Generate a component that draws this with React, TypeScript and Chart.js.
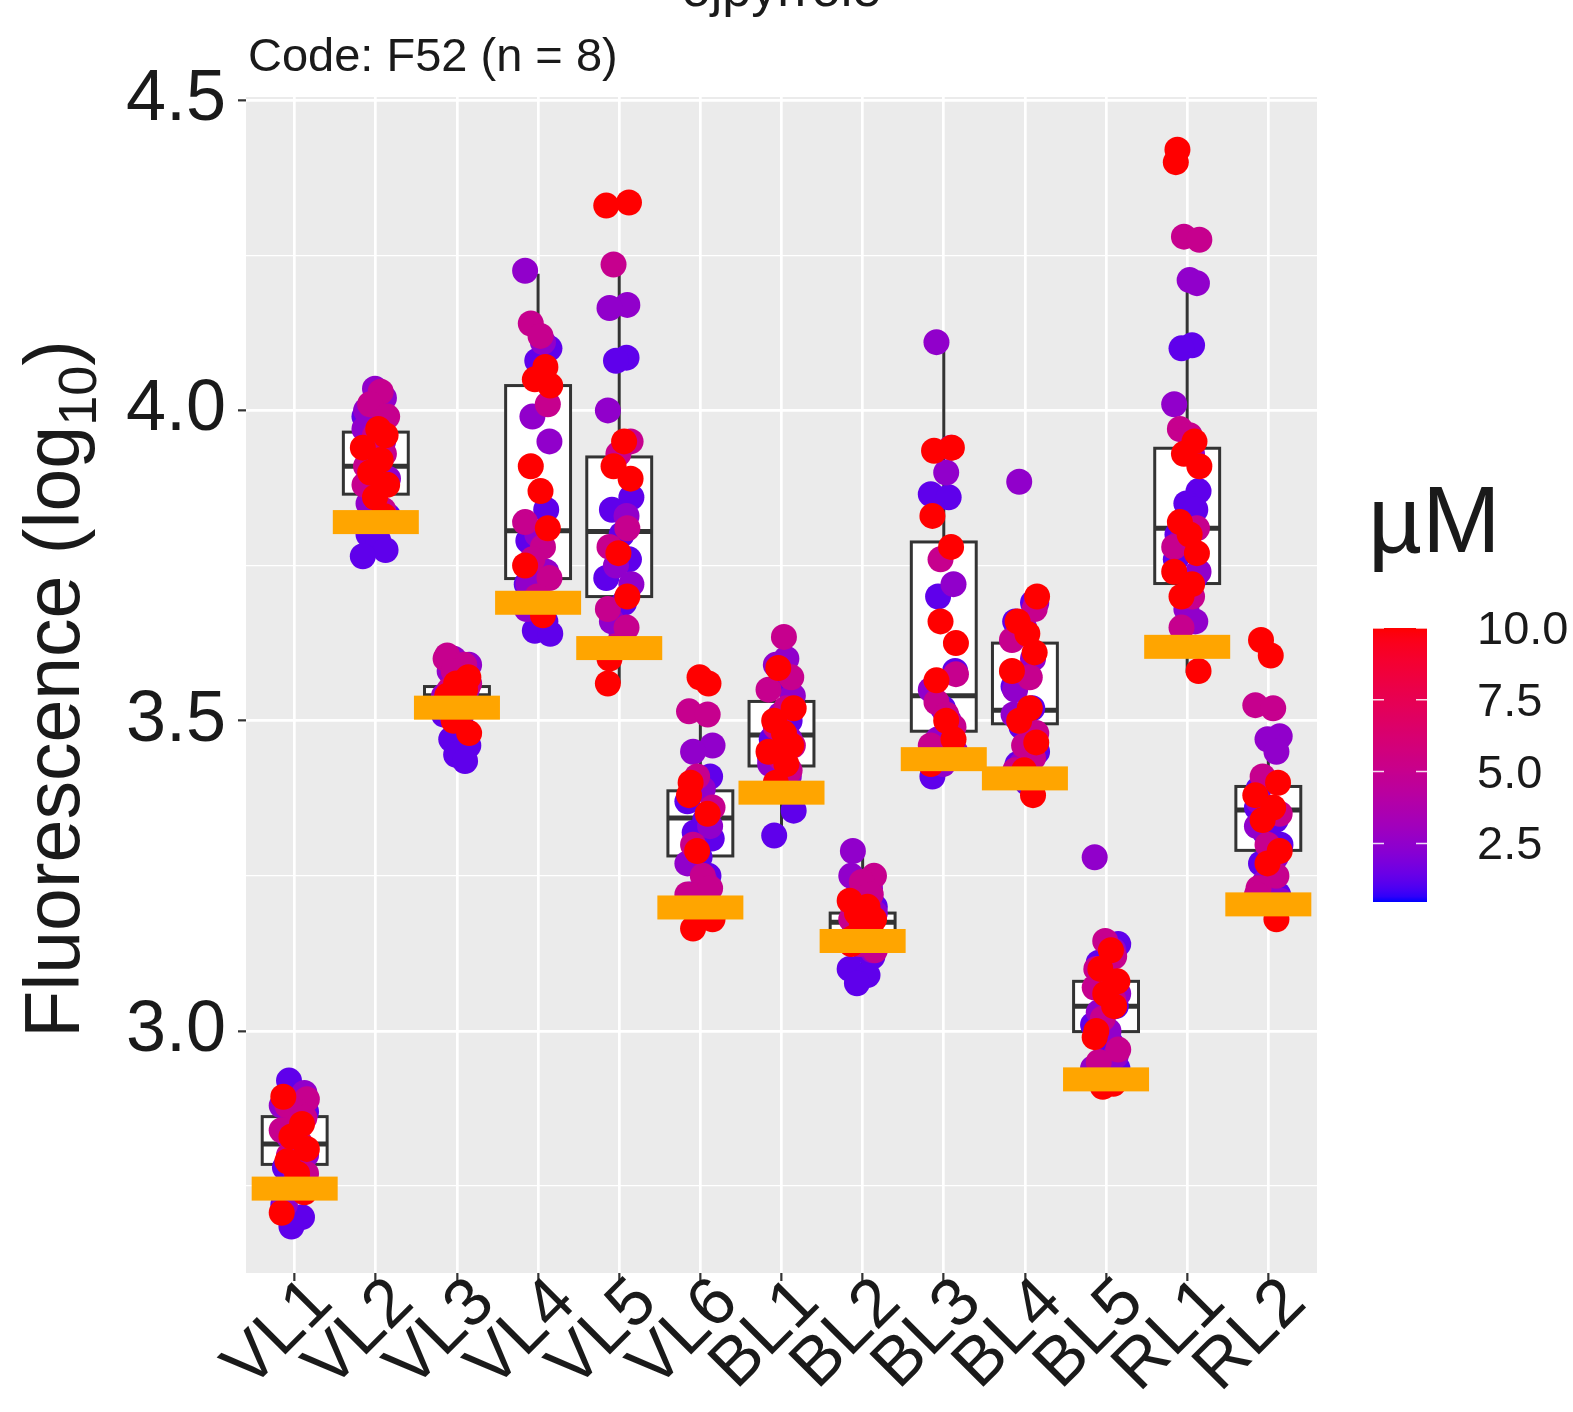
import React, { useEffect, useRef } from 'react';
import { Chart, registerables } from 'chart.js';

Chart.register(...registerables);

// ---------------- DATA ----------------
const TITLE = 'ojpyrrole';
const SUBTITLE = 'Code: F52 (n = 8)';
const Y_TITLE_MAIN = 'Fluorescence (log';
const Y_TITLE_SUB = '10';
const Y_TITLE_END = ')';
const LEGEND_TITLE = 'µM';

const CATEGORIES = ['VL1', 'VL2', 'VL3', 'VL4', 'VL5', 'VL6', 'BL1', 'BL2', 'BL3', 'BL4', 'BL5', 'RL1', 'RL2'];
const CONCENTRATIONS = [10, 5, 2.5, 1.25];

const Y_LIMITS = [2.61, 4.505];
const Y_MAJOR_TICKS = [3.0, 3.5, 4.0, 4.5];
const Y_MINOR_TICKS = [2.75, 3.25, 3.75, 4.25];
const COLOR_LIMITS = [0.46, 10];
const LEGEND_TICKS = [2.5, 5.0, 7.5, 10.0];

// log10 fluorescence per category, 10 µM
const POINTS_10 = [
  [2.894, 2.85, 2.83, 2.81, 2.79, 2.77, 2.74, 2.707],
  [3.97, 3.96, 3.94, 3.92, 3.90, 3.88, 3.86, 3.83],
  [3.57, 3.56, 3.55, 3.54, 3.53, 3.52, 3.50, 3.48],
  [4.07, 4.05, 4.04, 3.91, 3.87, 3.81, 3.75, 3.67],
  [4.335, 4.33, 3.95, 3.91, 3.89, 3.77, 3.70, 3.60, 3.56],
  [3.57, 3.56, 3.40, 3.38, 3.35, 3.29, 3.18, 3.165],
  [3.585, 3.52, 3.50, 3.48, 3.46, 3.45, 3.43, 3.40],
  [3.21, 3.20, 3.19, 3.18, 3.17, 3.16, 3.15, 3.14],
  [3.94, 3.935, 3.83, 3.78, 3.66, 3.625, 3.565, 3.50, 3.47, 3.43],
  [3.70, 3.66, 3.64, 3.61, 3.58, 3.52, 3.50, 3.465, 3.42, 3.38],
  [3.13, 3.10, 3.08, 3.06, 3.04, 3.00, 2.99, 2.915, 2.91],
  [4.42, 4.40, 3.95, 3.93, 3.91, 3.82, 3.80, 3.77, 3.74, 3.72, 3.70, 3.58],
  [3.63, 3.605, 3.40, 3.38, 3.36, 3.34, 3.29, 3.27, 3.18],
];
// 5 µM
const POINTS_5 = [
  [2.89, 2.88, 2.87, 2.86, 2.84, 2.82, 2.80, 2.77],
  [4.03, 4.01, 3.99, 3.96, 3.93, 3.91, 3.88, 3.84],
  [3.605, 3.60, 3.59, 3.58, 3.56, 3.55, 3.54, 3.52],
  [4.14, 4.12, 4.01, 3.82, 3.78, 3.76, 3.73, 3.70],
  [4.235, 3.95, 3.93, 3.81, 3.78, 3.68, 3.65, 3.62],
  [3.515, 3.51, 3.41, 3.36, 3.30, 3.25, 3.23, 3.22],
  [3.635, 3.57, 3.55, 3.52, 3.49, 3.46, 3.44, 3.42],
  [3.25, 3.24, 3.22, 3.20, 3.18, 3.16, 3.14, 3.13],
  [3.94, 3.76, 3.575, 3.53, 3.51, 3.49, 3.46, 3.44],
  [3.68, 3.63, 3.57, 3.50, 3.48, 3.46, 3.44, 3.42],
  [3.145, 3.12, 3.10, 3.07, 3.05, 3.02, 2.97, 2.95],
  [4.28, 4.275, 3.97, 3.96, 3.81, 3.78, 3.70, 3.65],
  [3.525, 3.52, 3.41, 3.35, 3.30, 3.25, 3.23, 3.22],
];
// 2.5 µM
const POINTS_2_5 = [
  [2.90, 2.88, 2.86, 2.83, 2.80, 2.78, 2.76, 2.72],
  [4.035, 4.02, 4.00, 3.97, 3.95, 3.92, 3.89, 3.85],
  [3.60, 3.59, 3.58, 3.57, 3.55, 3.54, 3.53, 3.51],
  [4.225, 4.11, 3.99, 3.95, 3.80, 3.74, 3.72, 3.68],
  [4.17, 4.165, 4.00, 3.83, 3.75, 3.72, 3.66, 3.64],
  [3.46, 3.45, 3.39, 3.33, 3.27, 3.24, 3.21, 3.20],
  [3.60, 3.59, 3.54, 3.51, 3.47, 3.45, 3.43, 3.41],
  [3.29, 3.25, 3.23, 3.21, 3.19, 3.17, 3.15, 3.13],
  [4.11, 3.90, 3.72, 3.55, 3.50, 3.47, 3.45, 3.43],
  [3.885, 3.69, 3.65, 3.60, 3.55, 3.51, 3.47, 3.43],
  [3.28, 3.13, 3.09, 3.06, 3.03, 3.00, 2.96, 2.94],
  [4.21, 4.205, 4.01, 3.93, 3.79, 3.74, 3.68, 3.66],
  [3.475, 3.47, 3.45, 3.37, 3.33, 3.28, 3.24, 3.21],
];
// 1.25 µM
const POINTS_1_25 = [
  [2.92, 2.87, 2.84, 2.81, 2.78, 2.72, 2.70, 2.685],
  [3.99, 3.96, 3.93, 3.83, 3.80, 3.79, 3.775, 3.765],
  [3.55, 3.53, 3.51, 3.49, 3.47, 3.46, 3.445, 3.435],
  [4.10, 4.08, 3.84, 3.79, 3.72, 3.66, 3.645, 3.64],
  [4.085, 4.08, 3.86, 3.84, 3.80, 3.76, 3.73, 3.69],
  [3.41, 3.37, 3.34, 3.32, 3.31, 3.28, 3.25, 3.22],
  [3.56, 3.50, 3.47, 3.44, 3.42, 3.40, 3.355, 3.315],
  [3.23, 3.20, 3.16, 3.13, 3.12, 3.10, 3.09, 3.077],
  [3.865, 3.86, 3.70, 3.58, 3.52, 3.48, 3.44, 3.41],
  [3.69, 3.66, 3.555, 3.52, 3.49, 3.45, 3.43, 3.40],
  [3.14, 3.11, 3.08, 3.04, 3.01, 2.98, 2.95, 2.94],
  [4.105, 4.10, 3.87, 3.85, 3.84, 3.80, 3.76, 3.73],
  [3.39, 3.36, 3.34, 3.32, 3.30, 3.27, 3.25, 3.22],
];

const BOX_Q1 = [2.785, 3.865, 3.528, 3.729, 3.700, 3.282, 3.427, 3.160, 3.483, 3.495, 2.999, 3.721, 3.291];
const BOX_MEDIAN = [2.818, 3.910, 3.540, 3.806, 3.805, 3.343, 3.477, 3.175, 3.540, 3.517, 3.040, 3.810, 3.356];
const BOX_Q3 = [2.862, 3.965, 3.555, 4.040, 3.925, 3.387, 3.531, 3.190, 3.788, 3.625, 3.080, 3.939, 3.394];
const WHISKER_LOW = [2.69, 3.765, 3.435, 3.64, 3.56, 3.165, 3.315, 3.077, 3.41, 3.38, 2.91, 3.577, 3.174];
const WHISKER_HIGH = [2.92, 4.035, 3.605, 4.22, 4.235, 3.515, 3.635, 3.29, 4.108, 3.70, 3.145, 4.205, 3.475];
const THRESHOLD = [2.746, 3.820, 3.521, 3.690, 3.617, 3.199, 3.384, 3.145, 3.438, 3.407, 2.922, 3.619, 3.204];

// ---------------- STYLE ----------------
const FONT = '"Liberation Sans", Arial, Helvetica, sans-serif';
const TEXT = '#1a1a1a';
const JITTER = [-0.14, 0.09, -0.04, 0.15, -0.09, 0.03, 0.12, -0.16, 0.06, -0.07, 0.14, -0.01, 0.1, -0.12];

// ggplot-like Lab interpolation from blue to red
function toLin(c: number) { c /= 255; return c <= 0.04045 ? c / 12.92 : Math.pow((c + 0.055) / 1.055, 2.4); }
function fromLin(c: number) {
  const v = c <= 0.0031308 ? 12.92 * c : 1.055 * Math.pow(c, 1 / 2.4) - 0.055;
  return Math.round(Math.max(0, Math.min(1, v)) * 255);
}
const XN = 0.95047, YN = 1.0, ZN = 1.08883;
function fLab(t: number) { return t > 0.008856 ? Math.cbrt(t) : 7.787 * t + 16 / 116; }
function fInv(t: number) { const t3 = t * t * t; return t3 > 0.008856 ? t3 : (t - 16 / 116) / 7.787; }
function rgbToLab(r: number, g: number, b: number) {
  const R = toLin(r), G = toLin(g), B = toLin(b);
  const X = 0.4124564 * R + 0.3575761 * G + 0.1804375 * B;
  const Y = 0.2126729 * R + 0.7151522 * G + 0.072175 * B;
  const Z = 0.0193339 * R + 0.119192 * G + 0.9503041 * B;
  const fx = fLab(X / XN), fy = fLab(Y / YN), fz = fLab(Z / ZN);
  return [116 * fy - 16, 500 * (fx - fy), 200 * (fy - fz)];
}
function labToRgb(L: number, a: number, b: number) {
  const fy = (L + 16) / 116, fx = fy + a / 500, fz = fy - b / 200;
  const X = XN * fInv(fx), Y = YN * fInv(fy), Z = ZN * fInv(fz);
  const R = 3.2404542 * X - 1.5371385 * Y - 0.4985314 * Z;
  const G = -0.969266 * X + 1.8760108 * Y + 0.041556 * Z;
  const B = 0.0556434 * X - 0.2040259 * Y + 1.0572252 * Z;
  return `rgb(${fromLin(R)},${fromLin(G)},${fromLin(B)})`;
}
const LAB_LOW = rgbToLab(0, 0, 255);
const LAB_HIGH = rgbToLab(255, 0, 0);
function colorFor(v: number) {
  const t = Math.max(0, Math.min(1, (v - COLOR_LIMITS[0]) / (COLOR_LIMITS[1] - COLOR_LIMITS[0])));
  return labToRgb(
    LAB_LOW[0] + (LAB_HIGH[0] - LAB_LOW[0]) * t,
    LAB_LOW[1] + (LAB_HIGH[1] - LAB_LOW[1]) * t,
    LAB_LOW[2] + (LAB_HIGH[2] - LAB_LOW[2]) * t,
  );
}

const SERIES = [POINTS_10, POINTS_5, POINTS_2_5, POINTS_1_25];

function isMajor(v: number) { return Math.abs(v * 2 - Math.round(v * 2)) < 1e-6; }

const decorPlugin = {
  id: 'ggDecor',
  beforeDraw(chart: any) {
    const { ctx, chartArea } = chart;
    ctx.save();
    ctx.fillStyle = '#FFFFFF';
    ctx.fillRect(0, 0, chart.width, chart.height);
    ctx.fillStyle = '#EBEBEB';
    ctx.fillRect(chartArea.left, chartArea.top, chartArea.right - chartArea.left, chartArea.bottom - chartArea.top);
    ctx.restore();
  },
  beforeDatasetsDraw(chart: any) {
    const { ctx } = chart;
    const xs = chart.scales.x, ys = chart.scales.y;
    const half = xs.getPixelForValue(1.4) - xs.getPixelForValue(1);
    ctx.save();
    ctx.strokeStyle = '#333333';
    CATEGORIES.forEach((_, i) => {
      const x = xs.getPixelForValue(i + 1);
      const q1 = ys.getPixelForValue(BOX_Q1[i]);
      const q3 = ys.getPixelForValue(BOX_Q3[i]);
      const med = ys.getPixelForValue(BOX_MEDIAN[i]);
      const lo = ys.getPixelForValue(WHISKER_LOW[i]);
      const hi = ys.getPixelForValue(WHISKER_HIGH[i]);
      ctx.lineWidth = 3;
      ctx.beginPath();
      ctx.moveTo(x, q3); ctx.lineTo(x, hi);
      ctx.moveTo(x, q1); ctx.lineTo(x, lo);
      ctx.stroke();
      ctx.fillStyle = '#FFFFFF';
      ctx.fillRect(x - half, q3, half * 2, q1 - q3);
      ctx.strokeRect(x - half, q3, half * 2, q1 - q3);
      ctx.lineWidth = 5;
      ctx.beginPath();
      ctx.moveTo(x - half, med); ctx.lineTo(x + half, med);
      ctx.stroke();
    });
    ctx.restore();
  },
  afterDatasetsDraw(chart: any) {
    const { ctx } = chart;
    const xs = chart.scales.x, ys = chart.scales.y;
    const half = xs.getPixelForValue(1.53) - xs.getPixelForValue(1);
    ctx.save();
    ctx.fillStyle = '#FFA500';
    THRESHOLD.forEach((v, i) => {
      const x = xs.getPixelForValue(i + 1);
      const y = ys.getPixelForValue(v);
      ctx.fillRect(x - half, y - 12, half * 2, 24);
    });
    ctx.restore();
  },
  afterDraw(chart: any) {
    const { ctx, chartArea } = chart;
    ctx.save();
    ctx.fillStyle = TEXT;
    // title (cut at top)
    ctx.font = `52px ${FONT}`;
    ctx.textAlign = 'center';
    ctx.textBaseline = 'alphabetic';
    ctx.fillText(TITLE, (chartArea.left + chartArea.right) / 2, 6);
    // subtitle
    ctx.font = `47px ${FONT}`;
    ctx.textAlign = 'left';
    ctx.fillText(SUBTITLE, chartArea.left + 2, 71);

    // y-axis title with subscript
    const mainF = `77px ${FONT}`, subF = `54px ${FONT}`;
    ctx.font = mainF; const w1 = ctx.measureText(Y_TITLE_MAIN).width; const w3 = ctx.measureText(Y_TITLE_END).width;
    ctx.font = subF; const w2 = ctx.measureText(Y_TITLE_SUB).width;
    const total = w1 + w2 + w3;
    ctx.translate(79, 689);
    ctx.rotate(-Math.PI / 2);
    ctx.textAlign = 'left';
    let x0 = -total / 2;
    ctx.font = mainF; ctx.fillText(Y_TITLE_MAIN, x0, 0); x0 += w1;
    ctx.font = subF; ctx.fillText(Y_TITLE_SUB, x0, 17); x0 += w2;
    ctx.font = mainF; ctx.fillText(Y_TITLE_END, x0, 0);
    ctx.setTransform(1, 0, 0, 1, 0, 0);

    // legend
    ctx.font = `94px ${FONT}`;
    ctx.textAlign = 'left';
    ctx.fillText(LEGEND_TITLE, 1368, 552);
    const barL = 1373, barR = 1427, barT = 628, barB = 902;
    const yOf = (v: number) => barB - (v - COLOR_LIMITS[0]) / (COLOR_LIMITS[1] - COLOR_LIMITS[0]) * (barB - barT);
    const grad = ctx.createLinearGradient(0, barB, 0, barT);
    for (let k = 0; k <= 50; k++) {
      const v = COLOR_LIMITS[0] + (COLOR_LIMITS[1] - COLOR_LIMITS[0]) * k / 50;
      grad.addColorStop(k / 50, colorFor(v));
    }
    ctx.fillStyle = grad;
    ctx.fillRect(barL, barT, barR - barL, barB - barT);
    ctx.strokeStyle = 'rgba(255,255,255,0.85)';
    ctx.lineWidth = 1.5;
    ctx.font = `47px ${FONT}`;
    ctx.textBaseline = 'middle';
    LEGEND_TICKS.forEach((v) => {
      const y = yOf(v);
      ctx.beginPath();
      ctx.moveTo(barL, y); ctx.lineTo(barL + 11, y);
      ctx.moveTo(barR - 11, y); ctx.lineTo(barR, y);
      ctx.stroke();
      ctx.fillStyle = TEXT;
      ctx.fillText(v.toFixed(1), 1477, y + 3);
    });
    ctx.restore();
  },
};

export default function App() {
  const ref = useRef<HTMLCanvasElement>(null);
  useEffect(() => {
    const canvas = ref.current;
    if (!canvas) return;
    const datasets = SERIES.map((series, c) => {
      const data: { x: number; y: number }[] = [];
      series.forEach((vals, i) => {
        vals.forEach((v, k) => {
          data.push({ x: i + 1 + JITTER[(i * 5 + c * 3 + k) % JITTER.length], y: v });
        });
      });
      return {
        label: `${CONCENTRATIONS[c]} µM`,
        data,
        pointRadius: 13,
        pointHoverRadius: 13,
        pointBorderWidth: 0,
        backgroundColor: colorFor(CONCENTRATIONS[c]),
        borderColor: 'rgba(0,0,0,0)',
        showLine: false,
      };
    });
    const chart = new Chart(canvas, {
      type: 'scatter',
      data: { datasets },
      plugins: [decorPlugin],
      options: {
        responsive: false,
        devicePixelRatio: 1,
        animation: false,
        events: [],
        layout: { padding: { top: 97, right: 256, left: 0, bottom: 0 } },
        plugins: { legend: { display: false }, title: { display: false }, tooltip: { enabled: false } },
        scales: {
          x: {
            type: 'linear',
            min: 0.4,
            max: 13.6,
            afterBuildTicks: (s: any) => { s.ticks = CATEGORIES.map((_, i) => ({ value: i + 1 })); },
            afterFit: (s: any) => { s.height = 139; },
            border: { display: false },
            grid: { color: '#FFFFFF', lineWidth: 2.7, drawTicks: true, tickLength: 8, tickColor: '#333333', tickWidth: 2.2 },
            ticks: {
              autoSkip: false,
              minRotation: 45,
              maxRotation: 45,
              padding: -18,
              labelOffset: 27,
              color: TEXT,
              font: { size: 68, family: FONT },
              callback: (v: any) => CATEGORIES[Math.round(Number(v)) - 1] ?? '',
            },
          },
          y: {
            type: 'linear',
            min: Y_LIMITS[0],
            max: Y_LIMITS[1],
            afterBuildTicks: (s: any) => {
              s.ticks = [...Y_MINOR_TICKS, ...Y_MAJOR_TICKS].sort((a, b) => a - b).map((v) => ({ value: v }));
            },
            afterFit: (s: any) => { s.width = 246; },
            border: { display: false },
            grid: {
              color: '#FFFFFF',
              lineWidth: (ctx: any) => (ctx.tick && isMajor(ctx.tick.value) ? 2.7 : 1.3),
              drawTicks: true,
              tickLength: 8,
              tickWidth: 2.2,
              tickColor: (ctx: any) => (ctx.tick && isMajor(ctx.tick.value) ? '#333333' : 'rgba(0,0,0,0)'),
            },
            ticks: {
              padding: 12,
              color: TEXT,
              font: { size: 72, family: FONT },
              callback: (v: any) => (isMajor(Number(v)) ? Number(v).toFixed(1) : ''),
            },
          },
        },
      } as any,
    });
    return () => chart.destroy();
  }, []);
  return (
    <div style={{ position: 'absolute', left: 0, top: 0, width: 1573, height: 1412, background: '#fff' }}>
      <canvas ref={ref} width={1573} height={1412} style={{ display: 'block', width: 1573, height: 1412 }} />
    </div>
  );
}
